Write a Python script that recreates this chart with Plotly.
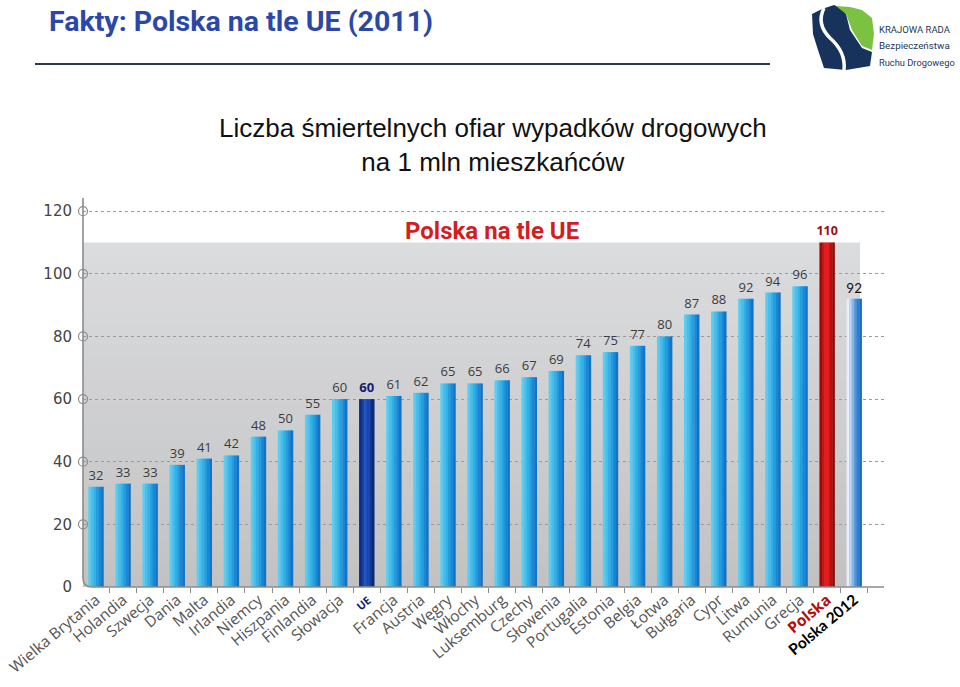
import plotly.graph_objects as go

# ---------------- data ----------------
categories = ["Wielka Brytania", "Holandia", "Szwecja", "Dania", "Malta", "Irlandia",
              "Niemcy", "Hiszpania", "Finlandia", "Słowacja", "UE", "Francja", "Austria",
              "Węgry", "Włochy", "Luksemburg", "Czechy", "Słowenia", "Portugalia",
              "Estonia", "Belgia", "Łotwa", "Bułgaria", "Cypr", "Litwa", "Rumunia",
              "Grecja", "Polska", "Polska 2012"]
values = [32, 33, 33, 39, 41, 42, 48, 50, 55, 60, 60, 61, 62, 65, 65, 66, 67, 69,
          74, 75, 77, 80, 87, 88, 92, 94, 96, 110, 92]
y_ticks = [0, 20, 40, 60, 80, 100, 120]

title = "Fakty: Polska na tle UE (2011)"
subtitle = "Liczba śmiertelnych ofiar wypadków drogowych<br>na 1 mln mieszkańców"
inset_title = "Polska na tle UE"
logo_lines = ["KRAJOWA RADA", "Bezpieczeństwa", "Ruchu Drogowego"]

# ---------------- geometry helpers (pixel -> paper) ----------------
W, H = 960, 687
ML, MR, MT, MB = 83, 76, 198, 100
PW, PH = W - ML - MR, H - MT - MB
YMAX = 124.2


def px(x):
    return (x - ML) / PW


def py(y):
    return (H - MB - y) / PH


def kind(c):
    if c == "UE":
        return "eu"
    if c == "Polska":
        return "pl"
    if c == "Polska 2012":
        return "pl12"
    return "std"


strip_colors = {
    "std": ["#5ecbef", "#48bfeb", "#34b0e6", "#239de0", "#1788d5", "#1273c7"],
    "eu": ["#0b2a85", "#1540a8", "#1d52c0", "#1646ae", "#0e3594", "#082a7c"],
    "pl": ["#9c0b0b", "#c81414", "#e41b1b", "#de1818", "#bb0f0f", "#8e0a0a"],
    "pl12": ["#e6eef8", "#bcd3ef", "#86b4e4", "#4f93d9", "#2c7fd1", "#1a6dc5"],
}
text_style = {
    "std": ("#3c3c3c", 13, "Open Sans"),
    "eu": ("#0c1f6e", 13, "Open Sans"),
    "pl": ("#9a1010", 12.5, "Open Sans"),
    "pl12": ("#111111", 13.5, "Lato"),
}

kinds = [kind(c) for c in categories]
BW = 0.57
N = 6
OV = 0.012  # small overlap between strips to avoid seams

fig = go.Figure()

# gradient bars built from vertical strips
for i in range(N):
    w = BW / N + (OV if i < N - 1 else 0)
    fig.add_trace(go.Bar(
        x=categories, y=values,
        width=w, offset=-BW / 2 + i * BW / N,
        marker=dict(color=[strip_colors[k][i] for k in kinds], line=dict(width=0)),
        hoverinfo="skip", showlegend=False,
    ))

# value labels
labels = []
for v, k in zip(values, kinds):
    labels.append(f"<b>{v}</b>" if k in ("eu", "pl") else str(v))
fig.add_trace(go.Bar(
    x=categories, y=values, width=BW, offset=-BW / 2,
    marker=dict(color="rgba(0,0,0,0)", line=dict(width=0)),
    text=labels, textposition="outside", cliponaxis=False, constraintext="none",
    textfont=dict(color=[text_style[k][0] for k in kinds],
                  size=[text_style[k][1] for k in kinds],
                  family=[text_style[k][2] for k in kinds]),
    hoverinfo="x+y", showlegend=False,
))

# tick texts
ticktext = []
for c, k in zip(categories, kinds):
    if k == "eu":
        ticktext.append('<b><span style="color:#0c1f6e;font-size:11px">' + c + '</span></b>')
    elif k == "pl":
        ticktext.append('<b><span style="color:#b01010">' + c + '</span></b>')
    elif k == "pl12":
        ticktext.append('<b><span style="color:#000000;font-family:Lato">' + c + '</span></b>')
    else:
        ticktext.append(c)

shapes = []

# grey gradient band up to Poland's level
band_top = max(values)
n_strips = 30
c_bot = (0xc2, 0xc2, 0xc3)
c_top = (0xdb, 0xdc, 0xde)
for s in range(n_strips):
    t = s / (n_strips - 1)
    col = tuple(int(round(c_bot[j] + (c_top[j] - c_bot[j]) * t)) for j in range(3))
    y0 = band_top * s / n_strips
    y1 = band_top * (s + 1) / n_strips + 0.3
    shapes.append(dict(type="rect", xref="paper", yref="y", x0=0, x1=px(860),
                       y0=y0, y1=min(y1, band_top), fillcolor="rgb(%d,%d,%d)" % col,
                       line=dict(width=0), layer="below"))

# axis with rounded corner
rx, ry = 9 / PW, 9 / PH
shapes.append(dict(type="path", xref="paper", yref="paper",
                   path=f"M 0 1 L 0 {ry} Q 0 0 {rx} 0 L 1 0",
                   line=dict(color="#8c8c8c", width=1.6), layer="above"))

# open circles at y ticks
r_x, r_y = 4.5 / PW, 4.5 / PH * YMAX
for v in y_ticks[1:]:
    shapes.append(dict(type="circle", xref="paper", yref="y",
                       x0=-r_x, x1=r_x, y0=v - r_y, y1=v + r_y,
                       line=dict(color="#8c8c8c", width=1.2),
                       fillcolor="rgba(0,0,0,0)", layer="above"))

# rule under the header
shapes.append(dict(type="line", xref="paper", yref="paper",
                   x0=px(35), x1=px(770), y0=py(64), y1=py(64),
                   line=dict(color="#2b3a48", width=2)))

# logo shapes
def ppath(points, close=True):
    s = "M " + " L ".join(f"{px(a):.5f} {py(b):.5f}" for a, b in points)
    return s + (" Z" if close else "")

shapes.append(dict(type="path", xref="paper", yref="paper",
                   path=ppath([(812, 14), (822, 9), (834, 5), (845, 10), (850, 30),
                               (862, 48), (872, 52), (870, 66), (846, 70), (824, 68),
                               (818, 50), (813, 34)]),
                   fillcolor="#17335c", line=dict(width=0)))
shapes.append(dict(type="path", xref="paper", yref="paper",
                   path=ppath([(836, 6), (850, 7), (862, 10), (872, 18), (874, 34),
                               (872, 50), (862, 46), (852, 30), (846, 14)]),
                   fillcolor="#7cc242", line=dict(width=0)))
shapes.append(dict(type="path", xref="paper", yref="paper",
                   path=(f"M {px(824):.5f} {py(8):.5f} Q {px(816):.5f} {py(24):.5f} "
                         f"{px(830):.5f} {py(38):.5f} Q {px(846):.5f} {py(52):.5f} "
                         f"{px(844):.5f} {py(70):.5f}"),
                   line=dict(color="white", width=3.5)))

annotations = [
    dict(xref="paper", yref="paper", x=px(47), y=py(21), xanchor="left", yanchor="middle",
         text="<b>" + title + "</b>", showarrow=False,
         font=dict(family="Roboto, sans-serif", size=28.5, color="#2b48a8")),
    dict(xref="paper", yref="paper", x=px(493), y=py(145), xanchor="center", yanchor="middle",
         text=subtitle, showarrow=False,
         font=dict(family="Liberation Sans, Arial, sans-serif", size=26, color="#111111")),
    dict(xref="paper", yref="paper", x=px(403), y=py(231), xanchor="left", yanchor="middle",
         text="<b>" + inset_title + "</b>", showarrow=False,
         font=dict(family="Roboto, sans-serif", size=24, color="#d41e1e")),
]
logo_sizes = [9.5, 9.8, 9.3]
for i, line in enumerate(logo_lines):
    annotations.append(dict(xref="paper", yref="paper", x=px(877), y=py(30 + 16 * i),
                            xanchor="left", yanchor="middle", text=line, showarrow=False,
                            font=dict(family="Roboto, sans-serif",
                                      size=logo_sizes[i], color="#243a55")))

fig.update_layout(
    width=W, height=H,
    margin=dict(l=ML, r=MR, t=MT, b=MB, pad=0, autoexpand=False),
    paper_bgcolor="white", plot_bgcolor="white",
    barmode="overlay", showlegend=False,
    shapes=shapes, annotations=annotations,
    xaxis=dict(type="category", range=[-0.48, 29.1], tickmode="array",
               tickvals=categories, ticktext=ticktext, tickangle=-40, automargin=False,
               tickson="boundaries", ticks="outside", ticklen=5, tickcolor="#8c8c8c",
               showgrid=False, showline=False, zeroline=False,
               tickfont=dict(family="Open Sans, sans-serif", size=15.5, color="#555555")),
    yaxis=dict(range=[0, YMAX], tickmode="array", tickvals=y_ticks, automargin=False,
               showgrid=True, gridcolor="#9a9a9a", gridwidth=1, griddash="3px,3px",
               zeroline=False, showline=False, ticks="", ticklabelstandoff=10,
               tickfont=dict(family="DejaVu Sans, sans-serif", size=15, color="#444444")),
)

fig.write_html("out.html", config={"displayModeBar": False},
               post_script="document.body.style.margin='0';document.body.style.overflow='hidden';")
